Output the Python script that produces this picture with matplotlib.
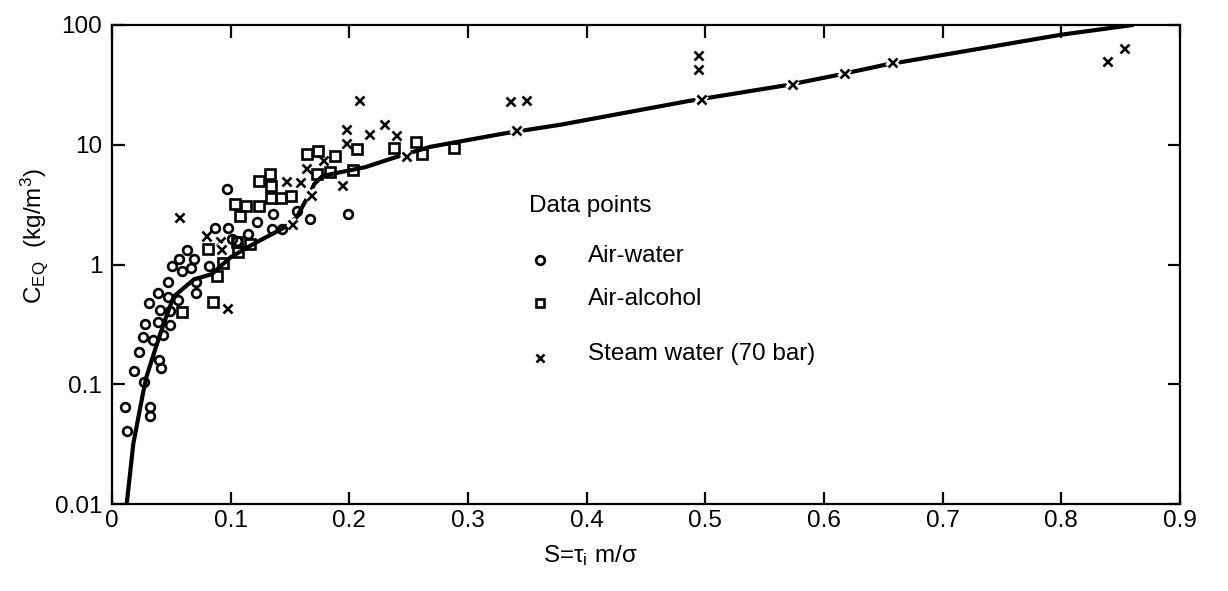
import matplotlib
matplotlib.use("Agg")
import matplotlib.pyplot as plt
import matplotlib.patheffects as pe
import numpy as np

plt.rcParams['font.family'] = ['Liberation Sans', 'DejaVu Sans']
plt.rcParams['mathtext.fontset'] = 'custom'
plt.rcParams['mathtext.rm'] = 'Liberation Sans'
plt.rcParams['mathtext.it'] = 'Liberation Sans'

# Air-water (circles)
water_s = [0.0124, 0.011, 0.032, 0.032, 0.027, 0.0188, 0.040, 0.041, 0.023, 0.0264,
           0.0349, 0.0433, 0.0278, 0.039, 0.049, 0.0405, 0.049, 0.0312, 0.0475, 0.056,
           0.039, 0.0706, 0.047, 0.0706, 0.0504, 0.0588, 0.0664, 0.0819, 0.0568, 0.0692,
           0.0636, 0.0869, 0.0981, 0.0973, 0.122, 0.1356, 0.135, 0.143, 0.156, 0.167,
           0.1986, 0.105, 0.115, 0.101]
water_c = [0.041, 0.064, 0.065, 0.054, 0.104, 0.13, 0.16, 0.136, 0.187, 0.25,
           0.234, 0.26, 0.32, 0.33, 0.31, 0.42, 0.41, 0.48, 0.54, 0.51,
           0.58, 0.58, 0.72, 0.71, 0.97, 0.88, 0.94, 0.97, 1.12, 1.12,
           1.32, 2.0, 2.0, 4.3, 2.27, 2.63, 1.97, 1.97, 2.8, 2.39,
           2.62, 1.57, 1.79, 1.62]

# Air-alcohol (squares)
alcohol_s = [0.0591, 0.0855, 0.0889, 0.0813, 0.0934, 0.1052, 0.1165, 0.106, 0.108, 0.1038,
             0.1128, 0.1238, 0.1243, 0.1333, 0.1339, 0.1339, 0.1426, 0.1508, 0.164, 0.174,
             0.188, 0.173, 0.184, 0.2065, 0.203, 0.2374, 0.2565, 0.261, 0.288]
alcohol_c = [0.40, 0.49, 0.80, 1.36, 1.02, 1.54, 1.47, 1.27, 2.55, 3.19,
             3.1, 3.1, 5.0, 5.7, 4.55, 3.6, 3.6, 3.75, 8.4, 8.95,
             8.0, 5.7, 5.97, 9.25, 6.1, 9.4, 10.5, 8.4, 9.4]

# Steam water 70 bar (crosses)
steam_s = [0.0568, 0.0799, 0.0917, 0.0926, 0.0973, 0.1474, 0.1525, 0.1586, 0.1643, 0.1685,
           0.178, 0.194, 0.1975, 0.198, 0.2087, 0.217, 0.2295, 0.240, 0.248, 0.336,
           0.349, 0.341, 0.494, 0.494, 0.497, 0.5735, 0.617, 0.658, 0.839, 0.853]
steam_c = [2.47, 1.73, 1.57, 1.34, 0.43, 4.9, 2.17, 4.8, 6.3, 3.75,
           7.4, 4.6, 10.3, 13.4, 23.6, 12.1, 14.7, 12.0, 8.0, 22.8,
           23.6, 13.2, 55.6, 42.7, 24.0, 31.9, 39.5, 48.9, 50.0, 64.0]

# Correlation curve
curve_s = [0.0124, 0.018, 0.0258, 0.029, 0.036, 0.044, 0.052, 0.069, 0.084, 0.10,
           0.12, 0.145, 0.1555, 0.167, 0.1705, 0.1775, 0.2135, 0.236, 0.268, 0.33,
           0.378, 0.485, 0.569, 0.609, 0.651, 0.80, 0.86]
curve_c = [0.01, 0.032, 0.081, 0.115, 0.19, 0.33, 0.54, 0.75, 0.83, 1.15,
           1.5, 2.03, 2.47, 4.0, 4.7, 5.5, 6.5, 7.7, 9.6, 12.4,
           14.7, 23.1, 31.5, 37.8, 46.4, 83.0, 100.0]

x_ticks = [0, 0.1, 0.2, 0.3, 0.4, 0.5, 0.6, 0.7, 0.8, 0.9]
x_labels = ['0', '0.1', '0.2', '0.3', '0.4', '0.5', '0.6', '0.7', '0.8', '0.9']
y_ticks = [0.01, 0.1, 1, 10, 100]
y_labels = ['0.01', '0.1', '1', '10', '100']

fig = plt.figure(figsize=(12.28, 5.91), dpi=100)
ax = fig.add_axes([0.0912, 0.1472, 0.8697, 0.8105])

ax.plot(curve_s, curve_c, color='black', linewidth=3.0, solid_capstyle='round', zorder=2)

halo = [pe.withStroke(linewidth=5.5, foreground='white')]
ax.plot(steam_s, steam_c, linestyle='none', marker='x', markersize=6.5, markeredgewidth=1.9,
        color='black', zorder=3, path_effects=halo)
ax.plot(water_s, water_c, linestyle='none', marker='o', markersize=6.3, markeredgewidth=1.9,
        markerfacecolor='none', markeredgecolor='black', zorder=4)
ax.plot(alcohol_s, alcohol_c, linestyle='none', marker='s', markersize=7.8, markeredgewidth=1.9,
        markerfacecolor='none', markeredgecolor='black', zorder=4)

ax.set_yscale('log')
ax.set_xlim(0, 0.9)
ax.set_ylim(0.01, 100)
ax.set_xticks(x_ticks)
ax.set_xticklabels(x_labels)
ax.set_yticks(y_ticks)
ax.set_yticklabels(y_labels)
ax.minorticks_off()
ax.tick_params(which='major', direction='in', length=9, width=1.6, labelsize=17.5,
               top=True, right=True)
ax.tick_params(axis='x', pad=4)
ax.tick_params(axis='y', pad=7)
for sp in ax.spines.values():
    sp.set_linewidth(1.6)

ax.set_xlabel(r'S=$\tau_{\mathrm{i}}$ m/$\sigma$', fontsize=17.5)
ax.xaxis.set_label_coords(0.448, -0.082)
ax.set_ylabel(r'C$_{\mathrm{EQ}}$  (kg/m$^3$)', fontsize=17.5)
ax.yaxis.set_label_coords(-0.058, 0.56)

# legend drawn by hand to match uneven row spacing
tr = ax.transAxes
ax.text(0.390, 0.623, 'Data points', transform=tr, fontsize=17.5, va='center', ha='left')
rows = [('o', 'Air-water', 0.518), ('s', 'Air-alcohol', 0.428), ('x', 'Steam water (70 bar)', 0.313)]
for mk, label, yy in rows:
    ax.plot([0.4007], [yy - 0.008], transform=tr, marker=mk, markersize=6.2,
            markeredgewidth=1.9, markerfacecolor='none', markeredgecolor='black', linestyle='none')
    ax.text(0.446, yy, label, transform=tr, fontsize=17.5, va='center', ha='left')

fig.savefig('out.png', dpi=100)
